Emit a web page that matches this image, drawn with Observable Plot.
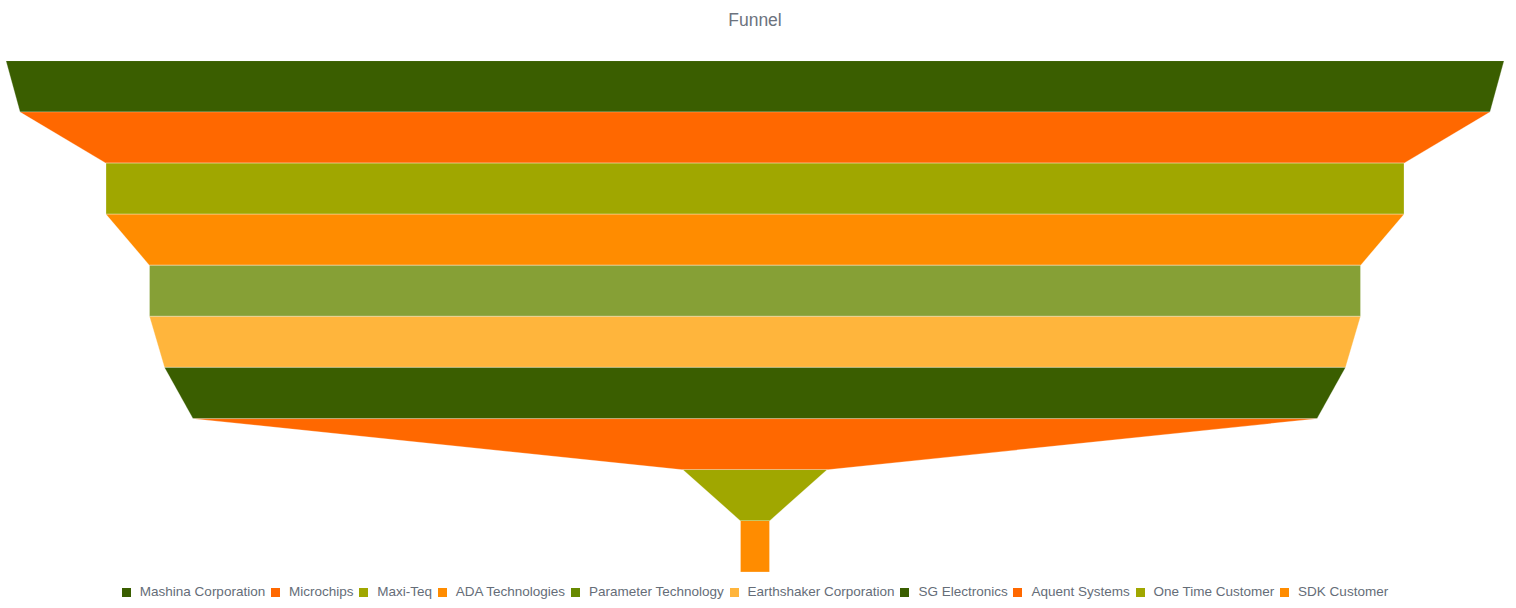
<!DOCTYPE html>
<html>
<head>
<meta charset="utf-8">
<script src="https://cdn.jsdelivr.net/npm/d3@7"></script>
<script src="https://cdn.jsdelivr.net/npm/@observablehq/plot@0.6"></script>
<style>
  html, body { margin: 0; padding: 0; background: #fff; }
  body { width: 1516px; height: 608px; overflow: hidden; font-family: "Liberation Sans", Arial, sans-serif; }
  #title { height: 40px; line-height: 41px; text-align: center; font-size: 17.5px; color: #6c737e; padding-right: 6px; }
  #chart svg { display: block; }
  #legend { display: flex; justify-content: center; align-items: center; height: 36px; padding-top: 4px; box-sizing: border-box; font-size: 13.5px; color: #656d78; line-height: 16px; padding-right: 6px; }
  .item { display: flex; align-items: center; margin: 0 2.9px; }
  .sw { width: 9px; height: 9px; margin-right: 9px; }
</style>
</head>
<body>
<div id="title">Funnel</div>
<div id="chart"></div>
<div id="legend"></div>
<script>
const stages = ["Mashina Corporation", "Microchips", "Maxi-Teq", "ADA Technologies", "Parameter Technology", "Earthshaker Corporation", "SG Electronics", "Aquent Systems", "One Time Customer", "SDK Customer"];
const values = [1498, 1470, 1298, 1298, 1211, 1211, 1181, 1124, 144, 29];
const fillColors = ["#3a5e00", "#ff6800", "#a0a700", "#ff8c00", "#86a036", "#ffb53c", "#3a5e00", "#ff6800", "#a0a700", "#ff8c00"];
const legendColors = ["#3a5e00", "#ff6800", "#a0a700", "#ff8c00", "#678900", "#ffb53c", "#3a5e00", "#ff6800", "#a0a700", "#ff8c00"];

// Build trapezoid outlines: top width = own value, bottom width = next value (last is a rectangle)
const points = [];
stages.forEach((s, i) => {
  const top = values[i];
  const bottom = i + 1 < values.length ? values[i + 1] : values[i];
  points.push({stage: s, idx: i, pos: i, half: top / 2});
  points.push({stage: s, idx: i, pos: i + 1, half: bottom / 2});
});

const maxV = d3.max(values);
const chart = Plot.plot({
  width: 1516,
  height: 532,
  marginTop: 21,
  marginBottom: 0,
  marginLeft: 6,
  marginRight: 12,
  x: {domain: [-maxV / 2, maxV / 2], axis: null},
  y: {domain: [0, stages.length], reverse: true, axis: null},
  color: {domain: stages, range: fillColors},
  marks: [
    Plot.areaX(points, {
      y: "pos",
      x1: d => -d.half,
      x2: d => d.half,
      z: "stage",
      fill: "stage",
      stroke: "#ffffff",
      strokeOpacity: 0.45,
      strokeWidth: 0.6,
      curve: "linear"
    })
  ]
});
document.getElementById("chart").appendChild(chart);

const legend = document.getElementById("legend");
stages.forEach((s, i) => {
  const it = document.createElement("div");
  it.className = "item";
  const sw = document.createElement("span");
  sw.className = "sw";
  sw.style.background = legendColors[i];
  const t = document.createElement("span");
  t.textContent = s;
  it.appendChild(sw);
  it.appendChild(t);
  legend.appendChild(it);
});
</script>
</body>
</html>
